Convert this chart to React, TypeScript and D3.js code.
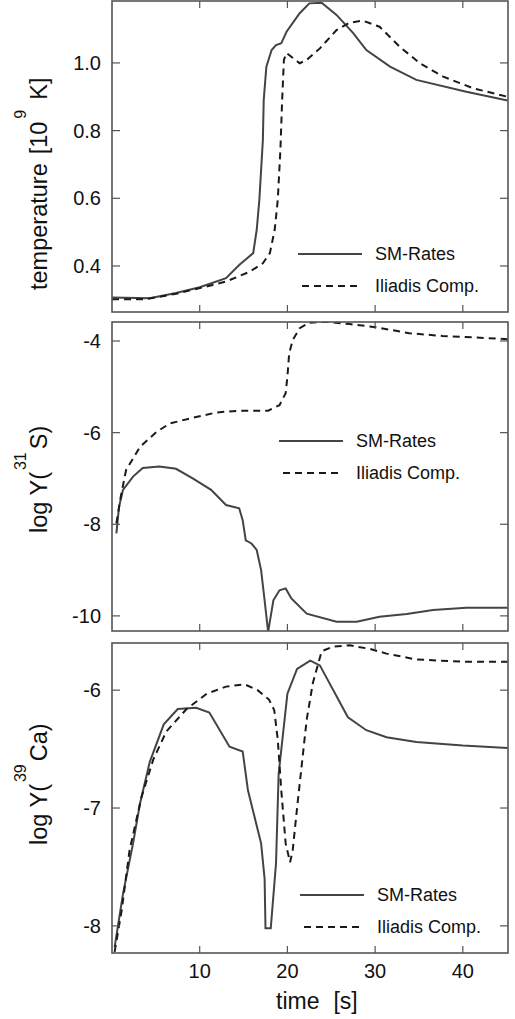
import React from 'react';
import * as d3 from 'd3';

// time [s] vs temperature [10^9 K]
const tempSM: [number, number][] = [
  [0, 0.307], [4.3, 0.305], [7.3, 0.32], [10, 0.337], [13, 0.364], [14.5, 0.403],
  [16.1, 0.438], [16.5, 0.507], [16.8, 0.595], [17.2, 0.772], [17.3, 0.891],
  [17.6, 0.989], [18.2, 1.038], [18.7, 1.053], [19.3, 1.058], [19.9, 1.092],
  [21.4, 1.147], [22.5, 1.176], [23.9, 1.178], [25.6, 1.142], [27.5, 1.088],
  [29.0, 1.038], [31.7, 0.989], [34.7, 0.95], [40.4, 0.915], [45.1, 0.889],
];
const tempIliadis: [number, number][] = [
  [0, 0.302], [3.9, 0.302], [7.3, 0.318], [10.4, 0.337], [13, 0.354], [15.7, 0.383],
  [17.2, 0.408], [18.0, 0.438], [18.55, 0.507], [18.9, 0.595], [19.2, 0.743],
  [19.4, 0.891], [19.6, 1.009], [19.9, 1.029], [21.4, 0.999], [22.2, 1.009],
  [23.7, 1.043], [25.6, 1.097], [27.1, 1.119], [28.6, 1.125], [30.5, 1.107],
  [32.8, 1.048], [35.1, 0.999], [37.7, 0.96], [41.2, 0.925], [45.1, 0.9],
];

// log Y(31S)
const s31SM: [number, number][] = [
  [0.5, -8.2], [0.8, -7.62], [1.25, -7.25], [2.4, -6.96], [3.5, -6.77], [5.4, -6.74],
  [7.3, -6.79], [9.2, -7.0], [11.3, -7.25], [13.0, -7.58], [14.5, -7.65], [14.9, -7.91],
  [15.25, -8.35], [15.9, -8.42], [16.5, -8.56], [17.0, -9.0], [17.4, -9.66],
  [17.8, -10.35], [18.4, -9.66], [19.1, -9.44], [19.8, -9.4], [20.45, -9.62],
  [22.2, -9.95], [25.6, -10.13], [27.9, -10.13], [30.5, -10.02], [33.6, -9.96],
  [36.6, -9.87], [40.4, -9.82], [45.1, -9.82],
];
const s31Iliadis: [number, number][] = [
  [0.5, -7.98], [1.0, -7.4], [1.6, -6.82], [3.2, -6.31], [5.1, -5.98], [6.6, -5.8],
  [8.9, -5.69], [11.9, -5.56], [14.6, -5.52], [17.8, -5.52], [19.1, -5.4],
  [19.8, -5.14], [20.0, -4.78], [20.2, -4.27], [20.6, -3.98], [21.4, -3.72],
  [22.5, -3.6], [24.4, -3.58], [27.1, -3.63], [30.1, -3.7], [33.9, -3.83],
  [37.7, -3.89], [41.2, -3.92], [45.1, -3.96],
];

// log Y(39Ca)
const ca39SM: [number, number][] = [
  [0.3, -8.18], [1.25, -7.73], [2.4, -7.3], [3.2, -6.96], [4.3, -6.61], [5.9, -6.29],
  [7.5, -6.16], [9.6, -6.15], [11.1, -6.19], [13.4, -6.48], [14.9, -6.52],
  [15.5, -6.85], [17.0, -7.3], [17.4, -7.6], [17.5, -8.02], [18.1, -8.02],
  [18.7, -7.47], [19.0, -6.71], [20.0, -6.03], [21.1, -5.82], [22.6, -5.75],
  [23.7, -5.79], [26.9, -6.23], [29.0, -6.34], [31.3, -6.4], [34.7, -6.44],
  [40.0, -6.47], [45.1, -6.49],
];
const ca39Iliadis: [number, number][] = [
  [0.3, -8.22], [1.1, -7.87], [2.0, -7.36], [3.35, -6.91], [4.7, -6.59], [6.2, -6.35],
  [8.5, -6.16], [10.8, -6.03], [13.0, -5.97], [15.1, -5.95], [16.6, -6.0],
  [17.9, -6.08], [18.5, -6.17], [18.9, -6.42], [19.3, -6.85], [19.8, -7.3],
  [20.3, -7.46], [20.6, -7.36], [21.2, -6.93], [22.2, -6.25], [22.9, -5.94],
  [23.9, -5.67], [25.2, -5.63], [27.1, -5.62], [29.4, -5.65], [31.3, -5.69],
  [34.7, -5.74], [40.4, -5.76], [45.1, -5.76],
];

const xTicks = [10, 20, 30, 40];
const tempTicks = [0.4, 0.6, 0.8, 1.0];
const s31Ticks = [-10, -8, -6, -4];
const ca39Ticks = [-8, -7, -6];
const legendNames = ['SM-Rates', 'Iliadis Comp.'];

const FONT = '"Liberation Sans", Arial, Helvetica, sans-serif';
const SOLID = '#444';
const DASHED = '#1a1a1a';
const FRAME = '#555';
const INK = '#111';

const x = d3.scaleLinear().domain([0, 45.15]).range([112, 508]);

type PanelProps = {
  top: number;
  bottom: number;
  domain: [number, number];
  ticks: number[];
  fmt: (v: number) => string;
  solid: [number, number][];
  dashed: [number, number][];
  legend: { x: number; y: number };
  id: string;
  children?: React.ReactNode;
};

const Panel = ({ top, bottom, domain, ticks, fmt, solid, dashed, legend, id, children }: PanelProps) => {
  const y = d3.scaleLinear().domain(domain).range([bottom, top]);
  const line = d3.line<[number, number]>().x(d => x(d[0])).y(d => y(d[1]));
  const [x0, x1] = x.range();
  const tl = 7;
  return (
    <g>
      <defs>
        <clipPath id={id}>
          <rect x={x0} y={top} width={x1 - x0} height={bottom - top} />
        </clipPath>
      </defs>
      <g clipPath={`url(#${id})`}>
        <path d={line(solid) ?? ''} fill="none" stroke={SOLID} strokeWidth={2} />
        <path d={line(dashed) ?? ''} fill="none" stroke={DASHED} strokeWidth={2} strokeDasharray="7,5" />
      </g>
      {xTicks.map(t => (
        <g key={t}>
          <line x1={x(t)} x2={x(t)} y1={top} y2={top + tl} stroke={FRAME} strokeWidth={1.2} />
          <line x1={x(t)} x2={x(t)} y1={bottom} y2={bottom - tl} stroke={FRAME} strokeWidth={1.2} />
        </g>
      ))}
      {ticks.map(t => (
        <g key={t}>
          <line x1={x0} x2={x0 + 8} y1={y(t)} y2={y(t)} stroke={FRAME} strokeWidth={1.2} />
          <line x1={x1} x2={x1 - 8} y1={y(t)} y2={y(t)} stroke={FRAME} strokeWidth={1.2} />
          <text x={101} y={y(t)} dy="0.36em" textAnchor="end" fontSize={20} fill={INK}>{fmt(t)}</text>
        </g>
      ))}
      <rect x={x0} y={top} width={x1 - x0} height={bottom - top} fill="none" stroke={FRAME} strokeWidth={1.6} />
      <g fontSize={18} fill={INK}>
        <line x1={legend.x} x2={legend.x + 64} y1={legend.y} y2={legend.y} stroke={SOLID} strokeWidth={2} />
        <text x={legend.x + 77} y={legend.y} dy="0.36em">{legendNames[0]}</text>
        <line x1={legend.x + 4} x2={legend.x + 62} y1={legend.y + 32} y2={legend.y + 32} stroke={DASHED} strokeWidth={2} strokeDasharray="7,5" />
        <text x={legend.x + 77} y={legend.y + 32} dy="0.36em">{legendNames[1]}</text>
      </g>
      {children}
    </g>
  );
};

const App = () => {
  return (
    <svg width={515} height={1019} style={{ position: 'absolute', left: 0, top: 0 }} fontFamily={FONT}>
      <rect width={515} height={1019} fill="#fff" />
      <Panel id="c1" top={1} bottom={312} domain={[0.264, 1.183]} ticks={tempTicks}
        fmt={d3.format('.1f')} solid={tempSM} dashed={tempIliadis} legend={{ x: 298, y: 254 }}>
        <text transform="translate(47,290) rotate(-90)" fontSize={23.5} fill={INK}>
          temperature<tspan dx={9}>[10</tspan>
          <tspan dy={-21} dx={3} fontSize={16}>9</tspan>
          <tspan dy={21} dx={10}>K]</tspan>
        </text>
      </Panel>
      <Panel id="c2" top={322} bottom={631} domain={[-10.33, -3.585]} ticks={s31Ticks}
        fmt={d => String(d)} solid={s31SM} dashed={s31Iliadis} legend={{ x: 279, y: 441 }}>
        <text transform="translate(47,533) rotate(-90)" fontSize={23.5} fill={INK}>
          log Y(<tspan dy={-21} dx={2} fontSize={16}>31</tspan>
          <tspan dy={21} dx={3}>S)</tspan>
        </text>
      </Panel>
      <Panel id="c3" top={643} bottom={953} domain={[-8.23, -5.6]} ticks={ca39Ticks}
        fmt={d => String(d)} solid={ca39SM} dashed={ca39Iliadis} legend={{ x: 300, y: 895 }}>
        <text transform="translate(47,845) rotate(-90)" fontSize={23.5} fill={INK}>
          log Y(<tspan dy={-21} dx={2} fontSize={16}>39</tspan>
          <tspan dy={21} dx={3}>Ca)</tspan>
        </text>
      </Panel>
      {xTicks.map(t => (
        <text key={t} x={x(t)} y={978} textAnchor="middle" fontSize={20} fill={INK}>{t}</text>
      ))}
      <text x={276} y={1009} fontSize={23} fill={INK}>
        time<tspan dx={14}>[s]</tspan>
      </text>
    </svg>
  );
};

export default App;
